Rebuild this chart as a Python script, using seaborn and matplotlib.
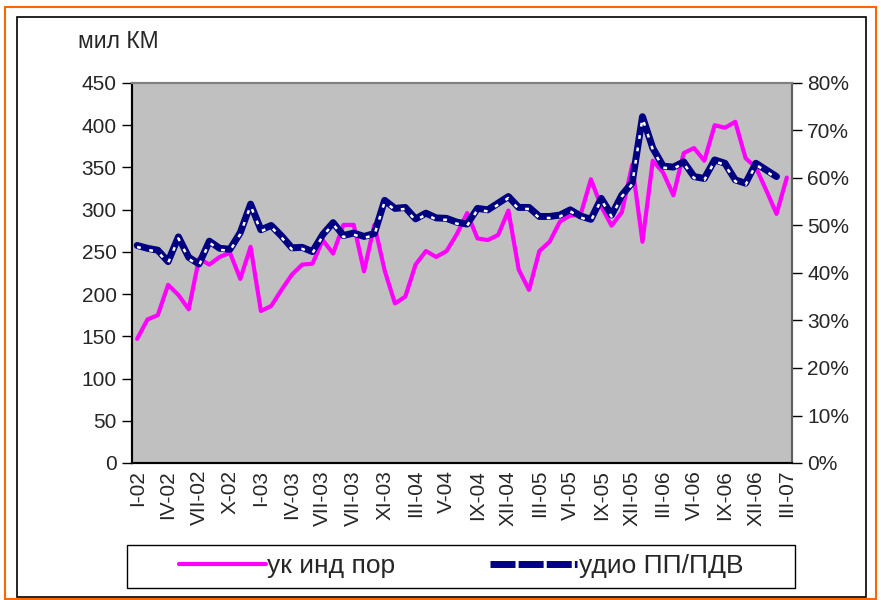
import numpy as np
import pandas as pd
import matplotlib
matplotlib.use("Agg")
import matplotlib.pyplot as plt
import matplotlib.transforms as mtransforms
from matplotlib.patches import Rectangle
from matplotlib.lines import Line2D
from matplotlib.ticker import FuncFormatter, MultipleLocator
import seaborn as sns

# month labels shown on the axis (every 3rd month, as typed in the source)
tick_labels = ["I-02", "IV-02", "VII-02", "X-02", "I-03", "IV-03", "VII-03",
               "VII-03", "XI-03", "III-04", "V-04", "IX-04", "XII-04", "III-05",
               "VI-05", "IX-05", "XII-05", "III-06", "VI-06", "IX-06", "XII-06",
               "III-07"]

# left axis series, мил КМ
uk_ind_por = [147, 170, 175, 211, 199, 182, 242, 235, 244, 249, 218, 256,
              180, 186, 205, 223, 235, 236, 264, 248, 282, 282, 227, 282,
              228, 189, 197, 235, 251, 244, 251, 271, 296, 266, 264, 270,
              299, 229, 205, 251, 262, 286, 293, 294, 336, 304, 281, 297,
              353, 262, 358, 344, 317, 367, 373, 358, 400, 397, 404, 361,
              350, 323, 295, 338]

# right axis series, %
udio_pp_pdv = [45.8, 45.2, 44.8, 42.4, 47.6, 43.3, 41.9, 46.7, 45.2, 45.0,
               48.5, 54.5, 49.1, 50.0, 47.8, 45.3, 45.4, 44.5, 48.1, 50.6,
               47.9, 48.4, 47.7, 48.3, 55.3, 53.6, 53.8, 51.4, 52.6, 51.6,
               51.5, 50.7, 50.3, 53.6, 53.3, 54.7, 56.1, 53.8, 53.8, 51.9,
               51.9, 52.2, 53.3, 52.0, 51.3, 55.7, 52.2, 56.4, 59.0, 72.9,
               66.3, 62.5, 62.3, 63.4, 60.3, 59.9, 63.8, 63.1, 59.6, 58.9,
               63.1, 61.7, 60.3]

series_names = ["ук инд пор", "удио ПП/ПДВ"]

n = len(uk_ind_por)
df1 = pd.DataFrame({"idx": np.arange(n), "val": uk_ind_por})
df2 = pd.DataFrame({"idx": np.arange(len(udio_pp_pdv)), "val": udio_pp_pdv})

sns.set_style("white")
plt.rcParams["font.family"] = ["Liberation Sans", "DejaVu Sans"]

fig = plt.figure(figsize=(8.81, 6.0), dpi=100)
ax = fig.add_axes([132 / 881, 1 - 463 / 600, 660 / 881, 380 / 600])
ax.set_facecolor("#C0C0C0")
ax2 = ax.twinx()

sns.lineplot(data=df1, x="idx", y="val", ax=ax, color="#FF00FF", lw=3.0)

# navy thick line with small white dashes slightly below its centre
sns.lineplot(data=df2, x="idx", y="val", ax=ax2, color="#000080", lw=5.0)
off = mtransforms.offset_copy(ax2.transData, fig=fig, x=0, y=-1.5, units="dots")
ax2.plot(df2["idx"], df2["val"], color="white", lw=1.8,
         dashes=(1.5, 3.5), transform=off, solid_capstyle="butt")

ax.set_xlim(-0.5, n - 0.5)
ax.set_ylim(0, 450)
ax2.set_ylim(0, 80)

ax.set_xticks(np.arange(0, n, 3))
ax.set_xticklabels(tick_labels, rotation=90, fontsize=15)
ax.set_xticks(np.arange(-0.5, n, 1), minor=True)
ax.tick_params(axis="x", which="major", length=0, pad=5)
ax.tick_params(axis="x", which="minor", direction="inout", length=10,
               width=1, color="black")
ax.yaxis.set_major_locator(MultipleLocator(50))
ax.tick_params(axis="y", direction="out", length=7, width=1, color="black",
               labelsize=15, pad=4)
ax.set_xlabel("")
ax.set_ylabel("")

ax2.yaxis.set_major_locator(MultipleLocator(10))
ax2.yaxis.set_major_formatter(FuncFormatter(lambda v, p: f"{v:.0f}%"))
ax2.tick_params(axis="y", direction="out", length=7, width=1, color="black",
                labelsize=15, pad=4)
ax2.set_ylabel("")
ax2.set_xlabel("")

for a in (ax, ax2):
    a.grid(False)
    a.spines["left"].set_color("black")
    a.spines["bottom"].set_color("black")
    a.spines["top"].set_color("#808080")
    a.spines["right"].set_color("#808080")
    for s in a.spines.values():
        s.set_linewidth(1.5)
        s.set_visible(True)
ax2.spines["right"].set_color("#606060")

fig.text(78 / 881, 1 - 42 / 600, "мил КМ", fontsize=16.5, va="center",
         ha="left")

handles = [
    Line2D([], [], color="#FF00FF", lw=3.0),
    Line2D([], [], color="#000080", lw=5.0, dashes=(3.6, 0.45),
           solid_capstyle="butt", dash_capstyle="butt"),
]
bb = (127 / 881, 1 - 588 / 600, 668 / 881, 43 / 600)
leg = fig.legend(handles, series_names, loc="center", bbox_to_anchor=bb,
                 ncol=2, fontsize=19, handlelength=3.3, handletextpad=0.05,
                 columnspacing=3.6, frameon=False, borderaxespad=0)
fig.patches.append(Rectangle((bb[0], bb[1]), bb[2], bb[3],
                             transform=fig.transFigure, fill=False,
                             edgecolor="black", lw=1.0))

# chart frame: orange outer border, black inner border
fig.patches.append(Rectangle((5 / 881, 1 / 600), 871 / 881, 592 / 600,
                             transform=fig.transFigure, fill=False,
                             edgecolor="#FF6600", lw=1.5))
fig.patches.append(Rectangle((17 / 881, 3 / 600), 849 / 881, 580 / 600,
                             transform=fig.transFigure, fill=False,
                             edgecolor="black", lw=1.2))

fig.savefig("out.png", dpi=100)
plt.close(fig)
